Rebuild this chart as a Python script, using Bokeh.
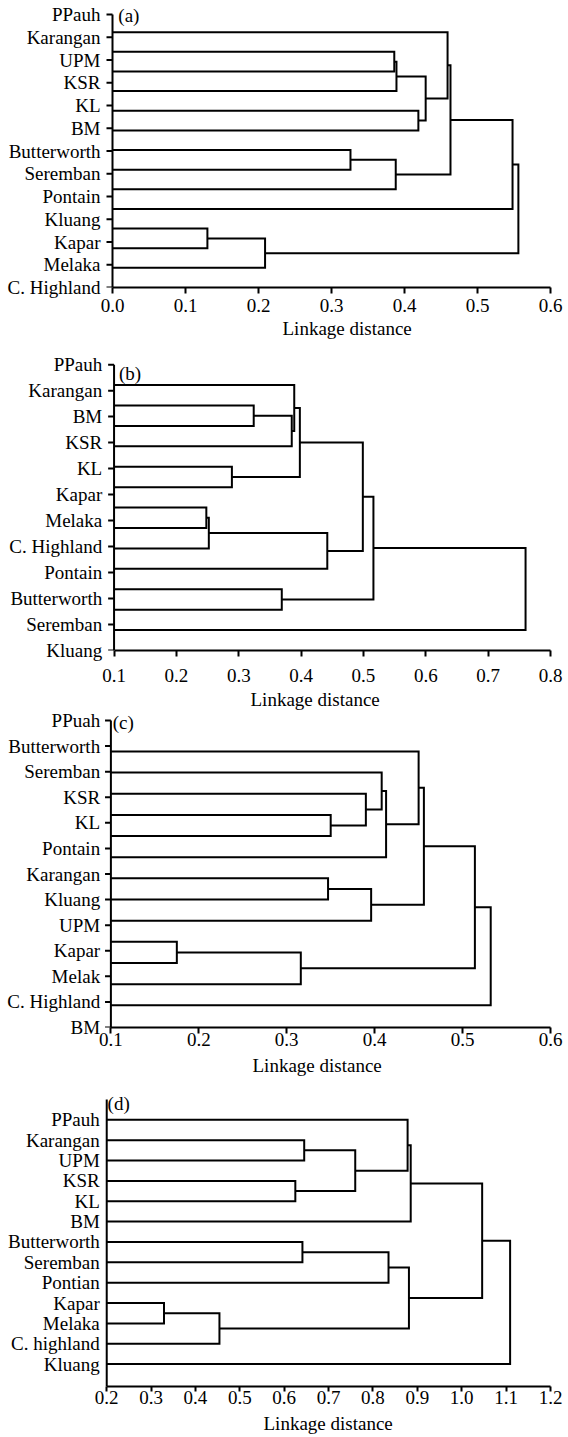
from bokeh.plotting import figure
from bokeh.layouts import column
from bokeh.models import FixedTicker, Label, Range1d, PrintfTickFormatter, Title
from bokeh.core.properties import value
from bokeh.embed import file_html
from bokeh.resources import INLINE

FONT = "'Liberation Serif', 'Times New Roman', serif"
FS = "19px"

# ---------------- data ----------------
# leaves are numbered 0..12 from top to bottom; merged clusters get 13, 14, ...
a_labels = ["PPauh", "Karangan", "UPM", "KSR", "KL", "BM", "Butterworth",
            "Seremban", "Pontain", "Kluang", "Kapar", "Melaka", "C. Highland"]
a_left = [1, 13, 4, 14, 0, 6, 18, 17, 20, 10, 22, 21]
a_right = [2, 3, 5, 15, 16, 7, 8, 19, 9, 11, 12, 23]
a_height = [0.386, 0.389, 0.419, 0.429, 0.459, 0.326, 0.388, 0.463, 0.548, 0.130, 0.209, 0.556]
a_xticks = [0.0, 0.1, 0.2, 0.3, 0.4, 0.5, 0.6]

b_labels = ["PPauh", "Karangan", "BM", "KSR", "KL", "Kapar", "Melaka",
            "C. Highland", "Pontain", "Butterworth", "Seremban", "Kluang"]
b_left = [1, 13, 0, 4, 15, 6, 18, 19, 17, 10, 21, 23]
b_right = [2, 3, 14, 5, 16, 7, 8, 9, 20, 11, 22, 12]
b_height = [0.324, 0.385, 0.389, 0.289, 0.398, 0.248, 0.252, 0.442, 0.499, 0.369, 0.516, 0.760]
b_xticks = [0.1, 0.2, 0.3, 0.4, 0.5, 0.6, 0.7, 0.8]

c_labels = ["PPuah", "Butterworth", "Seremban", "KSR", "KL", "Pontain", "Karangan",
            "Kluang", "UPM", "Kapar", "Melak", "C. Highland", "BM"]
c_left = [3, 2, 1, 15, 0, 6, 18, 17, 9, 21, 20, 23]
c_right = [4, 13, 14, 5, 16, 7, 8, 19, 10, 11, 22, 12]
c_height = [0.350, 0.390, 0.408, 0.413, 0.450, 0.347, 0.396, 0.456, 0.175, 0.316, 0.514, 0.532]
c_xticks = [0.1, 0.2, 0.3, 0.4, 0.5, 0.6]

d_labels = ["PPauh", "Karangan", "UPM", "KSR", "KL", "BM", "Butterworth",
            "Seremban", "Pontian", "Kapar", "Melaka", "C. highland", "Kluang"]
d_left = [1, 3, 13, 0, 16, 6, 18, 9, 20, 19, 17, 23]
d_right = [2, 4, 14, 15, 5, 7, 8, 10, 11, 21, 22, 12]
d_height = [0.645, 0.625, 0.760, 0.878, 0.885, 0.641, 0.835, 0.329, 0.454, 0.881, 1.046, 1.109]
d_xticks = [0.2, 0.3, 0.4, 0.5, 0.6, 0.7, 0.8, 0.9, 1.0, 1.1, 1.2]

x_title = "Linkage distance"


def dendro_lines(left, right, heights, xmin):
    n = len(left) + 1
    ypos = {i: i + 1.0 for i in range(n)}
    xpos = {i: xmin for i in range(n)}
    xs, ys = [], []
    for k, (l, r, h) in enumerate(zip(left, right, heights)):
        xs.append([xpos[l], h, h, xpos[r]])
        ys.append([ypos[l], ypos[l], ypos[r], ypos[r]])
        ypos[n + k] = (ypos[l] + ypos[r]) / 2.0
        xpos[n + k] = h
    return xs, ys


def panel(height, top, bottom, A, R, xticks, yr, pad, labels, left, right, heights,
          tag, tag_xy, aligned, label_gap, xlab_standoff, title_left, title_standoff=0,
          xtick_out=6):
    x0, x1 = xticks[0], xticks[-1]
    ppu = (R - A) / (x1 - x0)          # pixels per data unit along x
    xs_start = x0 - A / ppu            # frame starts at the left edge of the canvas
    p = figure(width=568, height=height, output_backend="svg", toolbar_location=None,
               x_range=Range1d(xs_start, x1),
               y_range=Range1d(yr[1], yr[0] - pad),
               y_axis_location=None,
               min_border_top=top, min_border_bottom=bottom,
               min_border_left=0, min_border_right=568 - R)
    p.outline_line_color = None
    p.xgrid.visible = False
    p.ygrid.visible = False
    p.background_fill_color = "white"
    p.border_fill_color = "white"

    # dendrogram
    xs, ys = dendro_lines(left, right, heights, x0)
    p.multi_line(xs, ys, line_color="black", line_width=2, line_join="miter")

    # vertical (label) axis drawn in data space
    p.segment(x0=[x0], y0=[yr[0]], x1=[x0], y1=[yr[1]], line_color="black", line_width=2)
    n = len(labels)
    if aligned:
        ticks = [float(i + 1) for i in range(n)]
    else:
        ticks = [yr[0] + (yr[1] - yr[0]) * i / (n - 1) for i in range(n)]
        tl = 6.0 / ppu
        p.segment(x0=[x0 - tl] * n, y0=ticks, x1=[x0] * n, y1=ticks,
                  line_color="black", line_width=2)
    p.text(x=[x0 - label_gap / ppu] * n, y=ticks, text=labels,
           text_align="right", text_baseline="middle",
           text_font=value(FONT), text_font_size=value(FS), text_color="black",
           level="overlay")

    # x axis
    xa = p.xaxis[0]
    xa.bounds = (x0, x1)
    xa.ticker = FixedTicker(ticks=xticks)
    xa.formatter = PrintfTickFormatter(format="%.1f")
    xa.minor_tick_line_color = None
    xa.major_tick_in = 0
    xa.major_tick_out = xtick_out
    xa.major_tick_line_width = 2
    xa.axis_line_width = 2
    xa.axis_line_color = "black"
    xa.major_tick_line_color = "black"
    xa.major_label_text_font = FONT
    xa.major_label_text_font_size = FS
    xa.major_label_text_color = "black"
    xa.major_label_standoff = xlab_standoff

    p.add_layout(Title(text=x_title, align="left", offset=title_left,
                       standoff=title_standoff, text_font=FONT, text_font_size=FS,
                       text_font_style="normal", text_color="black"), "below")

    p.add_layout(Label(x=tag_xy[0], y=tag_xy[1], text=tag, text_font=FONT,
                       text_font_size=FS, text_color="black",
                       text_baseline="middle", text_align="left"))
    return p


pa = panel(340, 4, 53, 112, 550, a_xticks, (0.1, 14.0), 0.51, a_labels,
           a_left, a_right, a_height, "(a)", (0.008, 0.15),
           aligned=False, label_gap=12, xlab_standoff=5, title_left=282, title_standoff=2)
pb = panel(371, 17, 59, 115, 557, b_xticks, (0.0, 14.0), 0.35, b_labels,
           b_left, b_right, b_height, "(b)", (0.108, 0.44),
           aligned=False, label_gap=12, xlab_standoff=12, title_left=250, title_standoff=4)
pc = panel(374, 1, 58, 113, 563, c_xticks, (-0.46, 14.05), 0.38, c_labels,
           c_left, c_right, c_height, "(c)", (0.102, -0.37),
           aligned=False, label_gap=11, xlab_standoff=-1, title_left=252, title_standoff=8)
pd = panel(352, 4, 49, 107, 554, d_xticks, (0.0, 14.1), 0.49, d_labels,
           d_left, d_right, d_height, "(d)", (0.202, 0.2),
           aligned=True, label_gap=7, xlab_standoff=-1, title_left=263, title_standoff=8,
           xtick_out=5)

layout = column(pa, pb, pc, pd, spacing=0)
open("out.html", "w").write(file_html(layout, INLINE))
